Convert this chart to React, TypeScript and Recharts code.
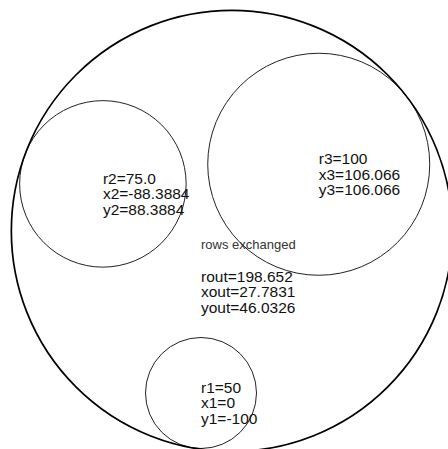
import React from "react";
import {
  ScatterChart,
  Scatter,
  XAxis,
  YAxis,
  ReferenceArea,
} from "recharts";

// circles: 1, 2, 3 and the enclosing one
const circleNames = ["c1", "c2", "c3", "out"];
const radii = [50, 75, 100, 198.652];
const centerX = [0, -88.3884, 106.066, 27.7831];
const centerY = [-100, 88.3884, 106.066, 46.0326];

// labels
const labelLines = [
  ["r1=50", "x1=0", "y1=-100"],
  ["r2=75.0", "x2=-88.3884", "y2=88.3884"],
  ["r3=100", "x3=106.066", "y3=106.066"],
  ["rout=198.652", "xout=27.7831", "yout=46.0326"],
];
const labelX = [0, -88.3884, 106.066, 0];
const labelY = [-100, 88.3884, 106.066, 0];
const noteText = "rows exchanged";

const X_DOMAIN = [-181.08, 222.52];
const Y_DOMAIN = [-150.45, 254.05];
const FONT = "'Liberation Sans', Arial, sans-serif";

const labelData = labelLines.map((lines, i) => ({
  x: labelX[i],
  y: labelY[i],
  lines,
  note: i === 3 ? noteText : null,
}));

const circleShape = (outer: boolean) => (props: any) => {
  const { x, y, width, height } = props;
  const w = Math.abs(width);
  const h = Math.abs(height);
  return (
    <ellipse
      cx={x + width / 2}
      cy={y + height / 2}
      rx={w / 2}
      ry={h / 2}
      fill="none"
      stroke={outer ? "#000" : "#222"}
      strokeWidth={outer ? 1.7 : 1}
    />
  );
};

const LabelShape = (props: any) => {
  const { cx, cy, payload } = props;
  return (
    <g>
      {payload.note && (
        <text
          x={cx}
          y={cy - 33}
          fontSize={13}
          fontFamily={FONT}
          fill="#333"
        >
          {payload.note}
        </text>
      )}
      <text x={cx} y={cy} fontSize={15.5} fontFamily={FONT} fill="#111">
        {payload.lines.map((line: string, i: number) => (
          <tspan key={line} x={cx} dy={i === 0 ? 0 : 15.5}>
            {line}
          </tspan>
        ))}
      </text>
    </g>
  );
};

export default function App() {
  return (
    <div
      style={{
        position: "absolute",
        left: 0,
        top: 0,
        width: 448,
        height: 449,
        background: "#fff",
      }}
    >
      <ScatterChart
        width={448}
        height={449}
        margin={{ top: 0, right: 0, bottom: 0, left: 0 }}
      >
        <XAxis
          type="number"
          dataKey="x"
          domain={X_DOMAIN}
          allowDataOverflow
          hide
        />
        <YAxis
          type="number"
          dataKey="y"
          domain={Y_DOMAIN}
          allowDataOverflow
          hide
        />
        {circleNames.map((name, i) => (
          <ReferenceArea
            key={name}
            x1={centerX[i] - radii[i]}
            x2={centerX[i] + radii[i]}
            y1={centerY[i] - radii[i]}
            y2={centerY[i] + radii[i]}
            ifOverflow="visible"
            shape={circleShape(name === "out")}
          />
        ))}
        <Scatter
          data={labelData}
          shape={LabelShape}
          isAnimationActive={false}
        />
      </ScatterChart>
    </div>
  );
}
